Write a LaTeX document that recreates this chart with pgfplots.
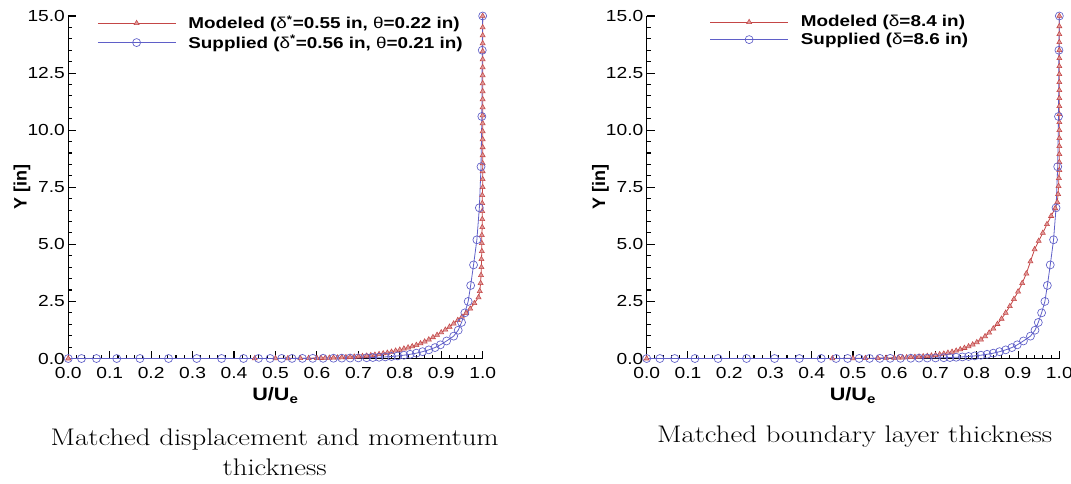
\documentclass[border=0pt]{standalone}
\usepackage{fontspec}
\usepackage{graphicx}
\usepackage{pgfplots}
\usepackage{pgfplotstable}
\pgfplotsset{compat=1.18}
\newfontfamily\arial{Liberation Sans}[FakeStretch=1.2]
\newfontfamily\arialN{Liberation Sans}
\definecolor{modred}{RGB}{196,70,70}
\definecolor{supblue}{RGB}{95,95,200}

% Supplied profile (same in both panels)
\pgfplotstableread{
U Y
0 0
0.032 0.0001
0.068 0.0002
0.117 0.0004
0.173 0.0006
0.242 0.0008
0.31 0.001
0.37 0.0015
0.423 0.002
0.459 0.0025
0.487 0.003
0.515 0.004
0.54 0.005
0.565 0.006
0.59 0.008
0.615 0.010
0.64 0.013
0.66 0.017
0.68 0.021
0.70 0.027
0.72 0.035
0.735 0.044
0.75 0.056
0.765 0.071
0.78 0.09
0.795 0.115
0.81 0.146
0.825 0.185
0.84 0.235
0.855 0.30
0.87 0.38
0.885 0.48
0.898 0.60
0.913 0.77
0.93 0.98
0.941 1.24
0.949 1.58
0.957 2.0
0.965 2.5
0.971 3.2
0.978 4.1
0.986 5.2
0.992 6.6
0.996 8.4
0.998 10.6
0.999 13.5
1.0 15.0
}\supplied

% Modeled, matched displacement/momentum thickness
\pgfplotstableread{
U Y
0 0
0.45 0.003
0.50 0.006
0.53 0.009
0.56 0.012
0.58 0.015
0.60 0.018
0.61 0.021
0.62 0.025
0.63 0.029
0.64 0.034
0.65 0.040
0.66 0.047
0.67 0.055
0.68 0.064
0.69 0.075
0.70 0.088
0.71 0.103
0.72 0.12
0.73 0.14
0.74 0.16
0.75 0.19
0.76 0.22
0.77 0.25
0.78 0.29
0.79 0.34
0.80 0.38
0.81 0.43
0.82 0.48
0.83 0.53
0.84 0.59
0.85 0.66
0.86 0.74
0.87 0.83
0.88 0.93
0.89 1.03
0.90 1.14
0.91 1.26
0.92 1.39
0.93 1.53
0.94 1.68
0.95 1.83
0.96 1.99
0.97 2.18
0.98 2.42
0.99 2.68
0.993 2.95
0.995 3.30
0.996 3.65
0.997 4.00
0.997 4.35
0.998 4.70
0.998 5.05
0.998 5.40
0.999 5.75
0.999 6.10
0.999 6.45
0.999 6.80
0.999 7.15
1.0 7.50
1.0 7.85
1.0 8.20
1.0 8.55
1.0 8.90
1.0 9.25
1.0 9.60
1.0 9.95
1.0 10.30
1.0 10.65
1.0 11.00
1.0 11.35
1.0 11.70
1.0 12.05
1.0 12.40
1.0 12.75
1.0 13.10
1.0 13.45
1.0 13.80
1.0 14.15
1.0 14.50
1.0 15.00
}\modeledA

% Modeled, matched boundary layer thickness
\pgfplotstableread{
U Y
0 0
0.45 0.003
0.50 0.008
0.53 0.012
0.56 0.018
0.58 0.024
0.60 0.03
0.61 0.035
0.62 0.042
0.63 0.05
0.64 0.058
0.65 0.068
0.66 0.08
0.67 0.093
0.68 0.108
0.69 0.125
0.70 0.15
0.71 0.18
0.72 0.21
0.73 0.25
0.74 0.29
0.75 0.34
0.76 0.40
0.77 0.46
0.78 0.53
0.79 0.61
0.80 0.71
0.81 0.83
0.82 0.97
0.83 1.13
0.84 1.31
0.85 1.51
0.86 1.74
0.87 2.00
0.88 2.29
0.89 2.60
0.90 2.93
0.91 3.30
0.92 3.72
0.93 4.25
0.94 4.78
0.95 5.15
0.96 5.50
0.97 5.88
0.98 6.24
0.99 6.58
0.995 6.85
0.997 7.20
0.998 7.55
0.999 7.90
1.0 8.25
1.0 8.60
1.0 8.95
1.0 9.30
1.0 9.65
1.0 10.00
1.0 10.35
1.0 10.70
1.0 11.05
1.0 11.40
1.0 11.75
1.0 12.10
1.0 12.45
1.0 12.80
1.0 13.15
1.0 13.50
1.0 13.85
1.0 14.20
1.0 14.55
1.0 15.00
}\modeledB

\pgfplotsset{
  bl/.style={
    scale only axis, height=256.9pt,
    xmin=0, xmax=1, ymin=0, ymax=15,
    axis x line*=bottom, axis y line*=left,
    axis line style={line width=1pt, black},
    xtick={0,0.1,0.2,0.3,0.4,0.5,0.6,0.7,0.8,0.9,1.0},
    ytick={0,2.5,5,7.5,10,12.5,15},
    minor x tick num=4, minor y tick num=4,
    tick align=inside, xtick pos=lower, ytick pos=left,
    major tick length=6pt, minor tick length=3pt,
    every tick/.style={black, line width=0.8pt},
    tick label style={font=\arial\fontsize{12}{14}\selectfont},
    xticklabel style={yshift=-3pt},
    yticklabel style={xshift=1pt},
    /pgf/number format/fixed, /pgf/number format/fixed zerofill,
    /pgf/number format/precision=1,
    /pgf/number format/assume math mode=true,
    clip=false,
    xlabel={U/U\textsubscript{e}},
    ylabel={Y [in]},
    xlabel style={font=\arial\bfseries\fontsize{13.5}{15}\selectfont,
      at={(axis description cs:0.5,-0.108)}, anchor=center},
    ylabel style={font=\arialN\bfseries\fontsize{13.5}{15}\selectfont,
      at={(axis description cs:-0.112,0.5)}, anchor=center},
    legend style={draw=none, fill=none, anchor=north west,
      font=\arial\bfseries\fontsize{11.8}{13}\selectfont,
      row sep=-1pt, column sep=7pt, inner sep=0pt, cells={anchor=west}},
    legend image code/.code={
      \draw[mark repeat=2,mark phase=2,##1] plot coordinates {(0pt,0pt) (29pt,0pt) (58.5pt,0pt)};
    },
  },
  modst/.style={color=modred, line width=0.6pt, mark=triangle*, mark size=2.2pt,
    mark options={fill=modred!55, draw=modred, line width=0.4pt}},
  supst/.style={color=supblue, line width=0.6pt, mark=o, mark size=3pt,
    mark options={line width=0.5pt}},
}

\begin{document}
\begin{tikzpicture}
\path[use as bounding box] (0,0) rectangle (803.25pt,363pt);

\begin{axis}[bl, width=310.8pt, at={(51.2pt,94.1pt)}, anchor=south west,
  legend style={at={(axis description cs:0.07,1.01)}}]
\addplot[modst] table[x=U,y=Y] {\modeledA};
\addlegendentry{Modeled ({\mdseries δ}\textsuperscript{*}=0.55 in, {\mdseries θ}=0.22 in)}
\addplot[supst] table[x=U,y=Y] {\supplied};
\addlegendentry{Supplied ({\mdseries δ}\textsuperscript{*}=0.56 in, {\mdseries θ}=0.21 in)}
\end{axis}

\begin{axis}[bl, width=309.5pt, at={(485.0pt,94.1pt)}, anchor=south west,
  legend style={at={(axis description cs:0.153,1.01)}}]
\addplot[modst] table[x=U,y=Y] {\modeledB};
\addlegendentry{Modeled ({\mdseries δ}=8.4 in)}
\addplot[supst] table[x=U,y=Y] {\supplied};
\addlegendentry{Supplied ({\mdseries δ}=8.6 in)}
\end{axis}

\node[font=\fontsize{18}{22.5}\selectfont, align=center] at (206pt,24pt)
  {\scalebox{1.2}[1]{Matched displacement and momentum}\\\scalebox{1.2}[1]{thickness}};
\node[font=\fontsize{18}{22.5}\selectfont] at (641pt,35.25pt)
  {\scalebox{1.2}[1]{Matched boundary layer thickness}};
\end{tikzpicture}
\end{document}
